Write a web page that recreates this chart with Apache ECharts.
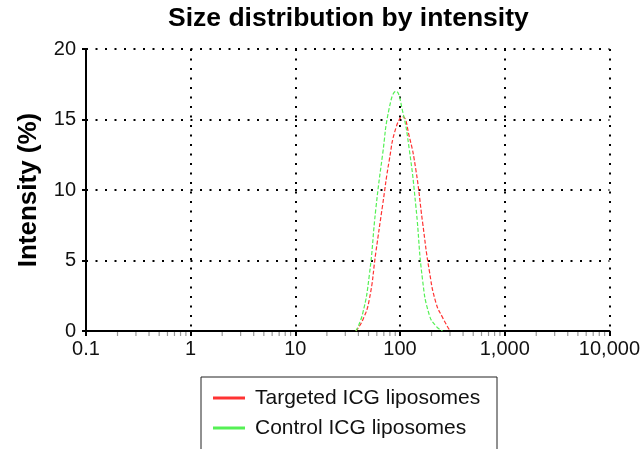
<!DOCTYPE html>
<html>
<head>
<meta charset="utf-8">
<script src="https://cdn.jsdelivr.net/npm/echarts@6/dist/echarts.min.js"></script>
<style>
  html, body { margin: 0; padding: 0; background: #fff; }
  #myChart1 { width: 643px; height: 449px; }
</style>
</head>
<body>
<div id="myChart1"></div>
<script>
// particle size bins (d.nm) and intensity (%)
var targetedSize = [37.84, 43.82, 50.75, 58.77, 68.06, 78.82, 91.28, 105.7, 122.4, 141.8, 164.2, 190.1, 220.2, 255.0, 295.3];
var targetedIntensity = [0, 0.75, 2.2, 5.6, 8.9, 12.1, 14.4, 15.2, 13.8, 11.4, 7.7, 4.3, 2.0, 0.95, 0.1];
var controlSize = [37.84, 43.82, 50.75, 58.77, 68.06, 78.82, 91.28, 105.7, 122.4, 141.8, 164.2, 190.1, 220.2, 255.0];
var controlIntensity = [0, 1.2, 3.9, 8.7, 12.5, 15.8, 17.0, 15.6, 12.9, 8.8, 3.6, 1.15, 0.35, 0];

var xTicks = [0.1, 1, 10, 100, 1000, 10000];
var xTickLabels = ['0.1', '1', '10', '100', '1,000', '10,000'];
var minorTicks = [];
for (var k = 0; k < xTicks.length - 1; k++) {
    for (var m = 2; m <= 9; m++) minorTicks.push(xTicks[k] * m);
}
var yTicks = [0, 5, 10, 15, 20];

function pairs(xs, ys) {
    var out = [];
    for (var i = 0; i < xs.length; i++) out.push([xs[i], ys[i]]);
    return out;
}

var font = 'Liberation Sans, Arial, sans-serif';
var dotted = { color: '#000', width: 2, type: [2, 7.5] };

var option = {
    animation: false,
    title: {
        text: 'Size distribution by intensity',
        left: 168,
        top: 5,
        padding: 0,
        textStyle: { fontFamily: font, fontWeight: 'bold', fontSize: 26.5, color: '#000' }
    },
    legend: {
        orient: 'vertical',
        left: 201,
        top: 377,
        height: 150,
        padding: [9, 14, 40, 12],
        itemWidth: 32,
        itemHeight: 3,
        itemGap: 6,
        icon: 'rect',
        borderColor: '#222',
        borderWidth: 1,
        textStyle: { fontFamily: font, fontSize: 21, color: '#111', lineHeight: 24, padding: [0, 0, 0, 5], width: 228 },
        data: ['Targeted ICG liposomes', 'Control ICG liposomes']
    },
    grid: { left: 86, right: 33, top: 49, bottom: 118 },
    xAxis: {
        type: 'log',
        logBase: 10,
        min: 0.1,
        max: 10000,
        axisLine: { lineStyle: { color: '#000', width: 2 } },
        axisTick: { show: true, length: 5, lineStyle: { color: '#000', width: 2 } },
        axisLabel: {
            fontFamily: font, fontSize: 20, color: '#111', margin: 8,
            formatter: function (v) {
                for (var i = 0; i < xTicks.length; i++) {
                    if (Math.abs(Math.log10(v) - Math.log10(xTicks[i])) < 1e-6) return xTickLabels[i];
                }
                return '';
            }
        },
        splitLine: { show: true, lineStyle: dotted }
    },
    yAxis: {
        type: 'value',
        min: 0,
        max: 20,
        interval: 5,
        name: 'Intensity (%)',
        nameLocation: 'middle',
        nameGap: 44,
        nameTextStyle: { fontFamily: font, fontWeight: 'bold', fontSize: 26, color: '#000' },
        axisLine: { show: true, lineStyle: { color: '#000', width: 2 } },
        axisTick: { show: true, length: 4, lineStyle: { color: '#000', width: 2 } },
        axisLabel: {
            fontFamily: font, fontSize: 20, color: '#111', margin: 10,
            formatter: function (v) { return yTicks.indexOf(v) >= 0 ? String(v) : ''; }
        },
        splitLine: { show: true, lineStyle: dotted }
    },
    series: [
        {
            name: 'Targeted ICG liposomes',
            type: 'line',
            smooth: true,
            showSymbol: false,
            color: '#ff3333',
            lineStyle: { width: 1.2, type: [4, 2] },
            data: pairs(targetedSize, targetedIntensity),
            z: 3
        },
        {
            name: 'Control ICG liposomes',
            type: 'line',
            smooth: true,
            showSymbol: false,
            color: '#55f055',
            lineStyle: { width: 1.2, type: [4, 2] },
            data: pairs(controlSize, controlIntensity),
            z: 3
        },
        {
            // grey minor ticks under the log axis
            type: 'custom',
            silent: true,
            clip: false,
            data: minorTicks.map(function (v) { return [v, 0]; }),
            renderItem: function (params, api) {
                var p = api.coord([api.value(0), api.value(1)]);
                return {
                    type: 'line',
                    shape: { x1: p[0], y1: p[1] + 1, x2: p[0], y2: p[1] + 5 },
                    style: { stroke: '#999', lineWidth: 1.2 }
                };
            },
            z: 5
        }
    ]
};

var myChart1 = echarts.init(document.getElementById('myChart1'));
myChart1.setOption(option);
window.onresize = myChart1.resize;
</script>
</body>
</html>
